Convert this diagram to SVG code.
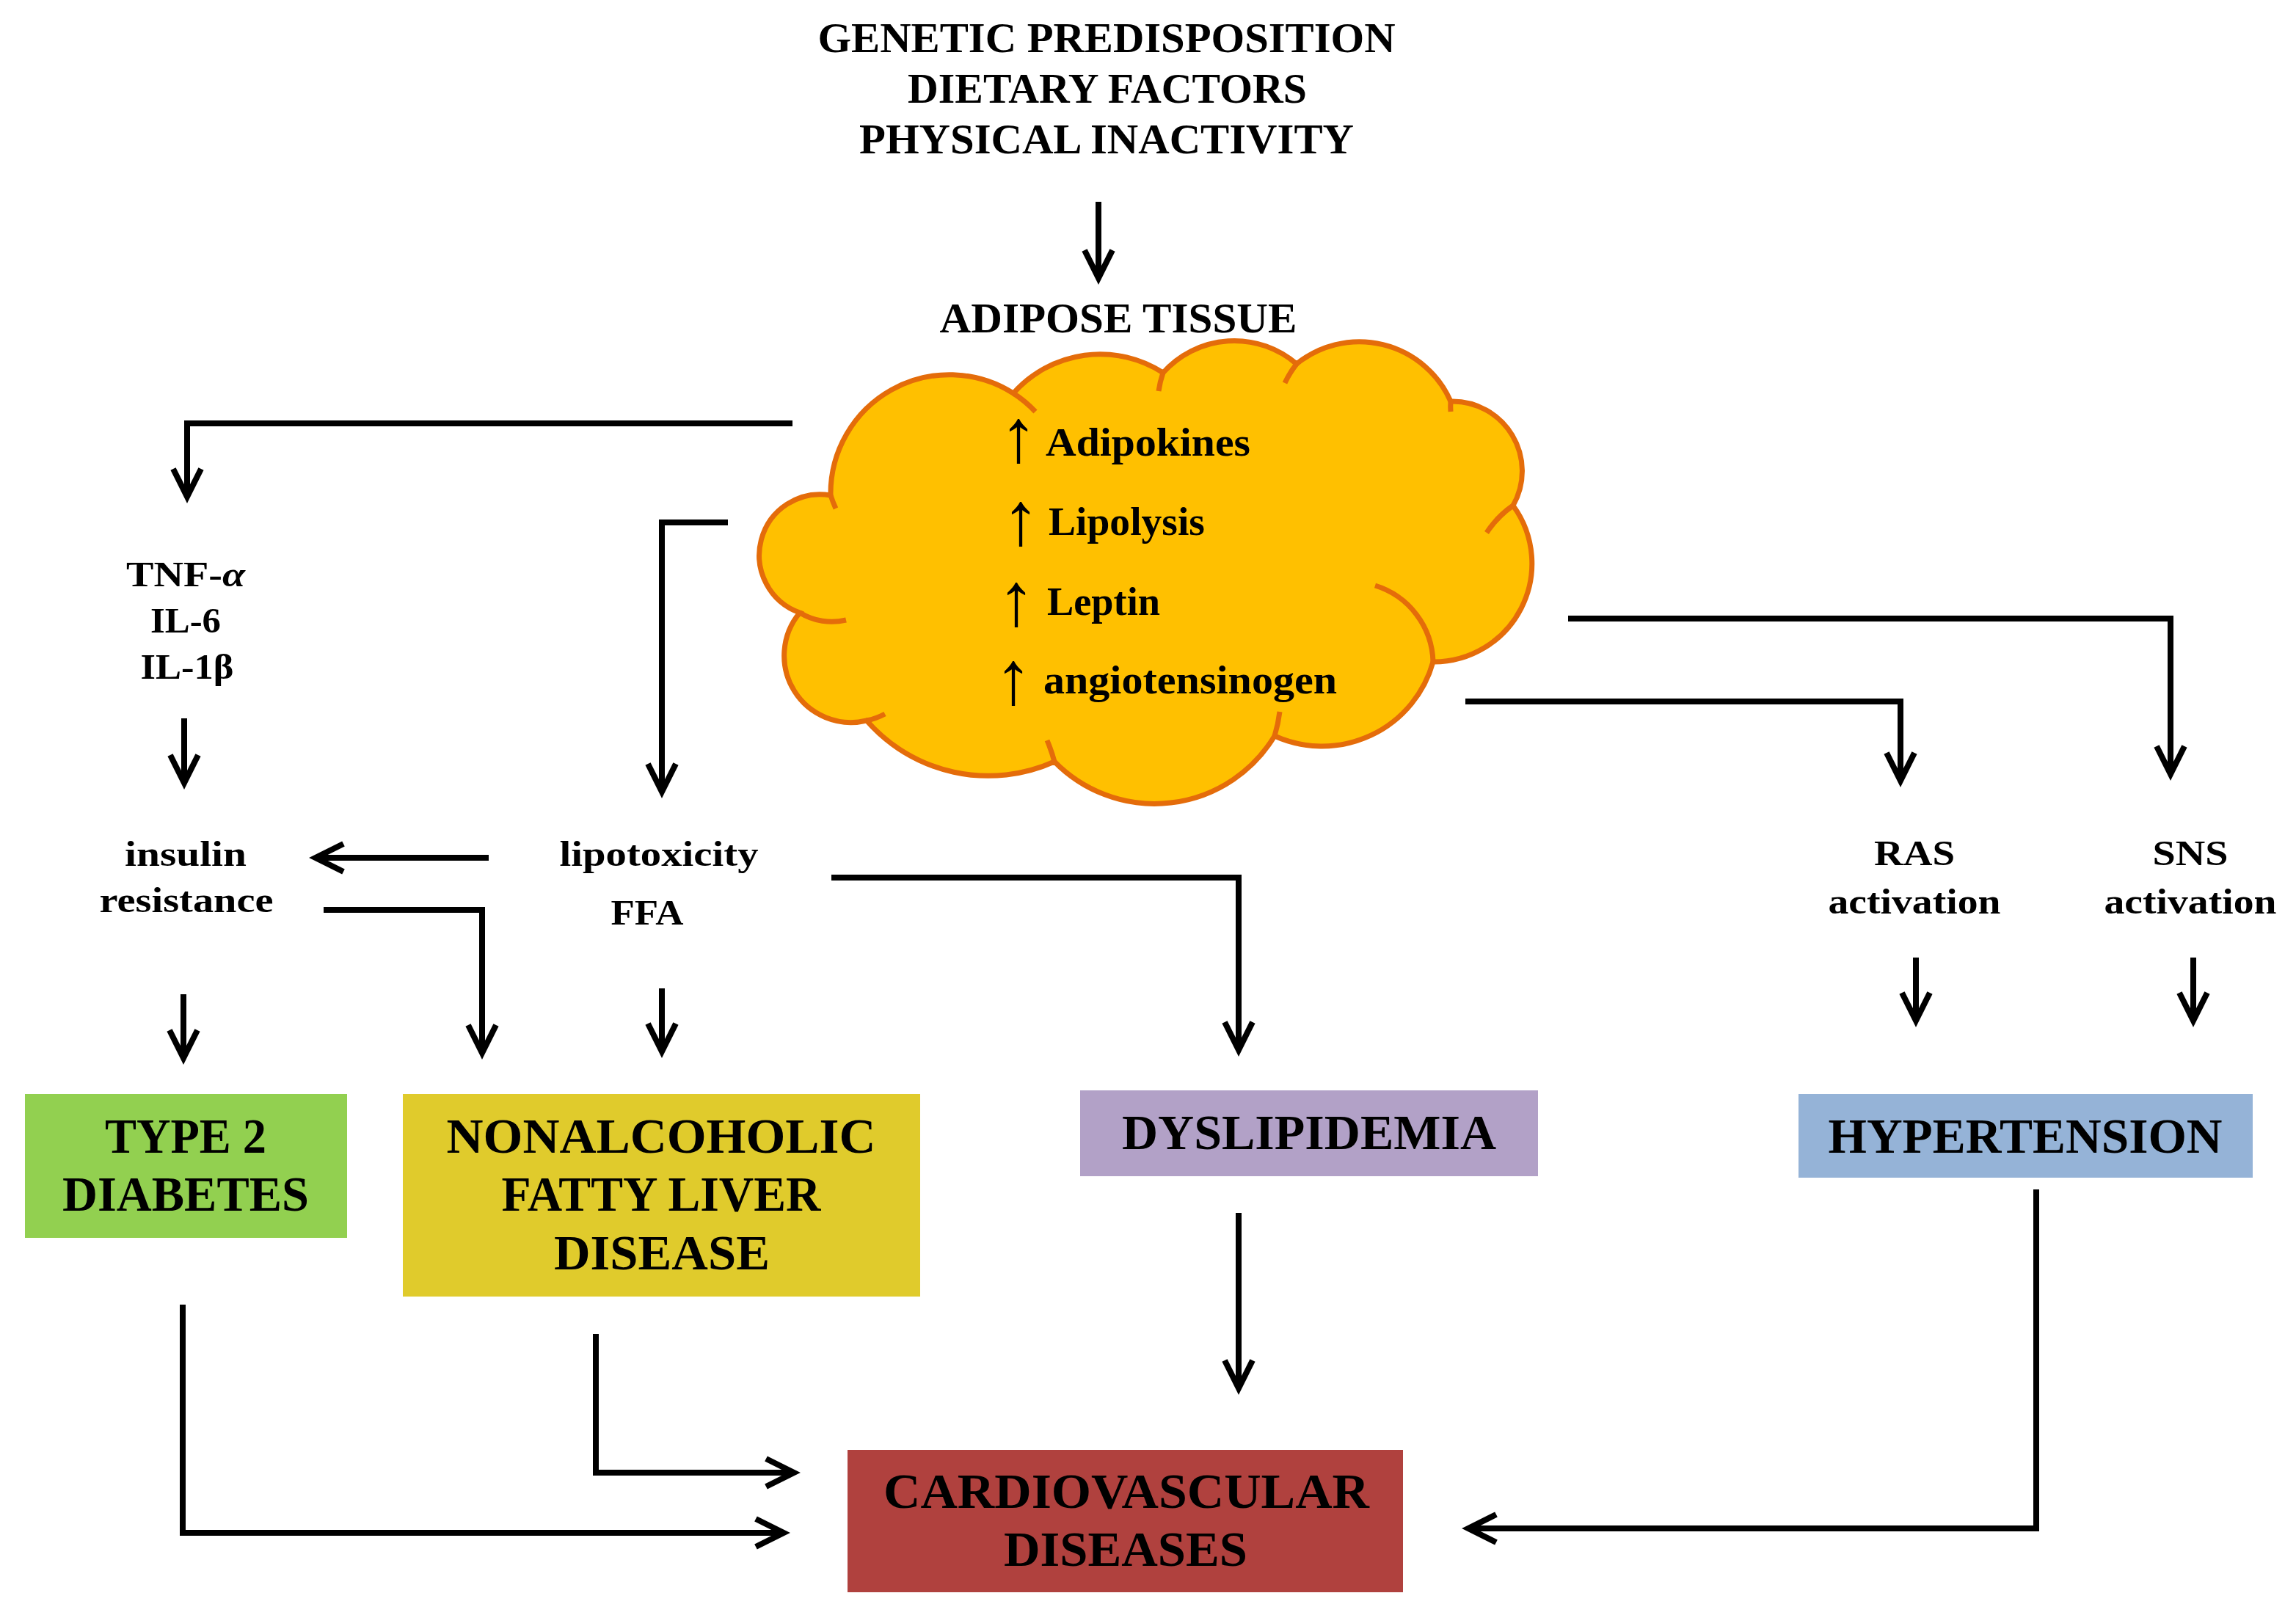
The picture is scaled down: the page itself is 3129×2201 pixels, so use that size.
<svg xmlns="http://www.w3.org/2000/svg" width="3129" height="2201" viewBox="0 0 3129 2201">
<style>
.t{font-family:"Liberation Serif","Times New Roman",serif;font-weight:bold;fill:#000}
.title{font-size:57px}
.lbl{font-size:49px}
.bx{font-size:68px}
.cl{font-size:55px}
.arr{font-family:"Liberation Serif","DejaVu Serif",serif;font-weight:normal;font-size:103px}
.c{fill:none;stroke:#000;stroke-width:8;stroke-linejoin:miter;marker-end:url(#ah)}
.cloud{fill:#FFC000;stroke:#E46C0A;stroke-width:7}
.tail{fill:none;stroke:#E46C0A;stroke-width:7}
</style>
<defs>
<marker id="ah" markerUnits="userSpaceOnUse" orient="auto" markerWidth="60" markerHeight="60" viewBox="-50 -30 60 60" refX="0" refY="0" overflow="visible">
<path d="M -38 -19 L 0 0 L -38 19" fill="none" stroke="#000" stroke-width="8" stroke-linejoin="miter"/>
</marker>
</defs>
<rect width="3129" height="2201" fill="#fff"/>

<g id="connectors">
<path class="c" d="M 1497 275 V 379"/>
<path class="c" d="M 1080 577 H 255 V 677"/>
<path class="c" d="M 992 712 H 902 V 1079"/>
<path class="c" d="M 251 979 V 1067"/>
<path class="c" d="M 666 1169 H 430"/>
<path class="c" d="M 441 1240 H 657 V 1435"/>
<path class="c" d="M 250 1355 V 1442"/>
<path class="c" d="M 902 1347 V 1433"/>
<path class="c" d="M 1133 1196 H 1688 V 1431"/>
<path class="c" d="M 2137 843 H 2958 V 1055"/>
<path class="c" d="M 1997 956 H 2590 V 1064"/>
<path class="c" d="M 2611 1305 V 1391"/>
<path class="c" d="M 2989 1305 V 1391"/>
<path class="c" d="M 1688 1653 V 1892"/>
<path class="c" d="M 249 1778 V 2089 H 1068"/>
<path class="c" d="M 812 1818 V 2007 H 1082"/>
<path class="c" d="M 2775 1621 V 2083 H 2001"/>
</g>

<g id="risk-factors">
<text class="t title" text-anchor="middle" x="1508" y="71" textLength="787" lengthAdjust="spacingAndGlyphs">GENETIC PREDISPOSITION</text>
<text class="t title" text-anchor="middle" x="1509" y="140" textLength="544" lengthAdjust="spacingAndGlyphs">DIETARY FACTORS</text>
<text class="t title" text-anchor="middle" x="1508" y="209" textLength="674" lengthAdjust="spacingAndGlyphs">PHYSICAL INACTIVITY</text>
</g>

<g id="adipose-tissue">
<text class="t title" text-anchor="middle" x="1524" y="453" textLength="487" lengthAdjust="spacingAndGlyphs">ADIPOSE TISSUE</text>
<path class="cloud" d="M 1132 675 A 162 162 0 0 1 1381 536 A 158 158 0 0 1 1585 508 A 130 130 0 0 1 1767 496 A 136 136 0 0 1 1977 547 A 95 95 0 0 1 2062 689 A 134 134 0 0 1 1953 902 A 157 157 0 0 1 1737 1003 A 191 191 0 0 1 1437 1038 A 220 220 0 0 1 1181 982 A 91 91 0 0 1 1090 835 A 83 83 0 0 1 1132 675 Z"/>
<path class="tail" d="M 1132 675 A 162 162 0 0 0 1139 693"/>
<path class="tail" d="M 1381 536 A 162 162 0 0 1 1411 561"/>
<path class="tail" d="M 1585 508 A 130 130 0 0 0 1579 533"/>
<path class="tail" d="M 1767 496 A 136 136 0 0 0 1751 522"/>
<path class="tail" d="M 1977 547 A 95 95 0 0 0 1977 561"/>
<path class="tail" d="M 2062 689 A 134 134 0 0 0 2026 726"/>
<path class="tail" d="M 1953 902 A 112 112 0 0 0 1874 798"/>
<path class="tail" d="M 1737 1003 A 191 191 0 0 0 1744 970"/>
<path class="tail" d="M 1437 1038 A 220 220 0 0 0 1427 1009"/>
<path class="tail" d="M 1181 982 A 91 91 0 0 0 1206 973"/>
<path class="tail" d="M 1090 835 A 83 83 0 0 0 1153 845"/>
<text class="t cl" y="621"><tspan class="arr" x="1388" y="629" text-anchor="middle">↑</tspan><tspan x="1425" y="621" textLength="279" lengthAdjust="spacingAndGlyphs">Adipokines</tspan></text>
<text class="t cl" y="729"><tspan class="arr" x="1391" y="742" text-anchor="middle">↑</tspan><tspan x="1429" y="729" textLength="213" lengthAdjust="spacingAndGlyphs">Lipolysis</tspan></text>
<text class="t cl" y="838"><tspan class="arr" x="1385" y="852" text-anchor="middle">↑</tspan><tspan x="1427" y="838" textLength="154" lengthAdjust="spacingAndGlyphs">Leptin</tspan></text>
<text class="t cl" y="945"><tspan class="arr" x="1381" y="959" text-anchor="middle">↑</tspan><tspan x="1422" y="945" textLength="400" lengthAdjust="spacingAndGlyphs">angiotensinogen</tspan></text>
</g>

<g id="cytokines">
<text class="t lbl" text-anchor="middle" x="253" y="799" textLength="162" lengthAdjust="spacingAndGlyphs">TNF-<tspan font-style="italic">α</tspan></text>
<text class="t lbl" text-anchor="middle" x="253" y="862" textLength="96" lengthAdjust="spacingAndGlyphs">IL-6</text>
<text class="t lbl" text-anchor="middle" x="255" y="925" textLength="127" lengthAdjust="spacingAndGlyphs">IL-1β</text>
</g>

<g id="insulin-resistance">
<text class="t lbl" text-anchor="middle" x="253" y="1180" textLength="166" lengthAdjust="spacingAndGlyphs">insulin</text>
<text class="t lbl" text-anchor="middle" x="254" y="1243" textLength="237" lengthAdjust="spacingAndGlyphs">resistance</text>
</g>

<g id="lipotoxicity">
<text class="t lbl" text-anchor="middle" x="898" y="1180" textLength="271" lengthAdjust="spacingAndGlyphs">lipotoxicity</text>
<text class="t lbl" text-anchor="middle" x="882" y="1260" textLength="99" lengthAdjust="spacingAndGlyphs">FFA</text>
</g>

<g id="ras-activation">
<text class="t lbl" text-anchor="middle" x="2609" y="1179" textLength="110" lengthAdjust="spacingAndGlyphs">RAS</text>
<text class="t lbl" text-anchor="middle" x="2609" y="1245" textLength="235" lengthAdjust="spacingAndGlyphs">activation</text>
</g>

<g id="sns-activation">
<text class="t lbl" text-anchor="middle" x="2985" y="1179" textLength="103" lengthAdjust="spacingAndGlyphs">SNS</text>
<text class="t lbl" text-anchor="middle" x="2985" y="1245" textLength="235" lengthAdjust="spacingAndGlyphs">activation</text>
</g>

<g id="type2-diabetes">
<rect x="34" y="1491" width="439" height="196" fill="#92D050"/>
<text class="t bx" text-anchor="middle" x="253" y="1571" textLength="220" lengthAdjust="spacingAndGlyphs">TYPE 2</text>
<text class="t bx" text-anchor="middle" x="253" y="1650" textLength="336" lengthAdjust="spacingAndGlyphs">DIABETES</text>
</g>

<g id="nafld">
<rect x="549" y="1491" width="705" height="276" fill="#E0CB2C"/>
<text class="t bx" text-anchor="middle" x="901" y="1571" textLength="585" lengthAdjust="spacingAndGlyphs">NONALCOHOLIC</text>
<text class="t bx" text-anchor="middle" x="901" y="1650" textLength="435" lengthAdjust="spacingAndGlyphs">FATTY LIVER</text>
<text class="t bx" text-anchor="middle" x="902" y="1730" textLength="294" lengthAdjust="spacingAndGlyphs">DISEASE</text>
</g>

<g id="dyslipidemia">
<rect x="1472" y="1486" width="624" height="117" fill="#B2A1C7"/>
<text class="t bx" text-anchor="middle" x="1784" y="1566" textLength="510" lengthAdjust="spacingAndGlyphs">DYSLIPIDEMIA</text>
</g>

<g id="hypertension">
<rect x="2451" y="1491" width="619" height="114" fill="#95B3D7"/>
<text class="t bx" text-anchor="middle" x="2760" y="1571" textLength="537" lengthAdjust="spacingAndGlyphs">HYPERTENSION</text>
</g>

<g id="cardiovascular-diseases">
<rect x="1155" y="1976" width="757" height="194" fill="#B0413E"/>
<text class="t bx" text-anchor="middle" x="1535" y="2055" textLength="662" lengthAdjust="spacingAndGlyphs">CARDIOVASCULAR</text>
<text class="t bx" text-anchor="middle" x="1534" y="2134" textLength="332" lengthAdjust="spacingAndGlyphs">DISEASES</text>
</g>
</svg>
